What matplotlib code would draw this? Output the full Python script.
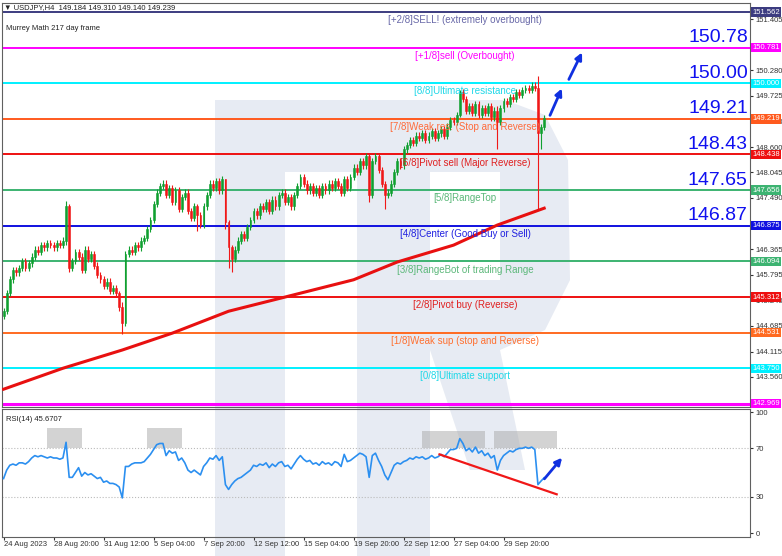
import numpy as np
import matplotlib.pyplot as plt
from matplotlib.patches import Rectangle, Polygon, FancyArrowPatch

plt.rcParams['font.family'] = ['Liberation Sans', 'DejaVu Sans']

# closes of the H4 candles
closes = [145.00, 145.40, 145.70, 145.90,
          145.85, 145.95, 146.10, 145.95, 146.05,
          146.20, 146.35, 146.30, 146.45, 146.40, 146.50, 146.45, 146.40,
          146.50, 146.45, 146.55,
          147.30, 145.95,
          146.10, 146.30, 146.20, 145.90, 146.35, 146.15, 146.25,
          146.00, 145.80, 145.70, 145.55, 145.65, 145.45, 145.50, 145.40,
          145.10, 144.75, 146.25,
          146.35, 146.30, 146.45, 146.40, 146.55, 146.60, 146.80,
          147.00, 147.35, 147.60, 147.75,
          147.80, 147.55, 147.70, 147.40, 147.65, 147.25, 147.50, 147.60, 147.20, 147.05,
          147.30, 147.10, 146.90, 147.30, 147.55, 147.80,
          147.70, 147.85, 147.65, 147.90,
          146.95, 146.40, 146.15, 146.35,
          146.55, 146.70, 146.60, 146.85, 147.00, 147.20, 147.10, 147.30, 147.25,
          147.40, 147.20, 147.45, 147.30, 147.55, 147.60, 147.40, 147.50, 147.30,
          147.55, 147.75, 147.95, 147.80,
          147.65, 147.75, 147.60, 147.70, 147.55, 147.75, 147.65, 147.80, 147.70, 147.85,
          147.75, 147.60, 147.90, 147.70,
          147.95, 148.15, 148.05, 148.30, 148.20, 148.40,
          147.55, 148.30, 148.40, 148.10, 147.80, 147.55, 147.60, 147.80,
          148.05, 148.30, 148.20, 148.55, 148.65, 148.75,
          148.70, 148.85, 148.80, 148.90, 148.75, 148.85, 148.95, 148.80, 148.90, 149.00,
          148.85, 149.05, 149.20, 149.15,
          149.30, 149.80, 149.65,
          149.40, 149.50, 149.35, 149.55, 149.30, 149.45, 149.35, 149.50, 149.25, 149.40,
          149.15, 149.45,
          149.60, 149.55, 149.70, 149.65, 149.80, 149.75, 149.85, 149.90, 149.85,
          149.95, 149.90,
          148.90,
          149.05, 149.239]
first_open = 144.90
wick = 0.07
special_wicks = {20: (147.42, 146.45), 21: (147.35, 145.85), 37: (145.45, 145.00),
                 38: (145.20, 144.50), 62: (147.35, 146.75), 71: (147.90, 146.80),
                 72: (147.00, 145.95), 73: (146.45, 145.85), 117: (148.45, 147.40),
                 122: (147.85, 147.25), 146: (149.85, 149.25), 158: (149.50, 148.55),
                 171: (150.16, 147.25), 172: (149.10, 148.55)}

# 217-period moving average (sampled per bar)
ma_x = [0, 19, 38, 54, 72, 90, 112, 126, 144, 158, 173]
ma_y = [143.29, 143.75, 144.15, 144.52, 145.00, 145.31, 145.69, 146.08, 146.45, 146.89, 147.26]

rsi = [45, 52, 56, 57,
       56, 58, 58, 57, 59,
       62, 64, 63, 64, 63, 62, 63, 62,
       62, 61, 62,
       75, 46,
       46, 50, 54, 47, 50, 48, 49,
       47, 45, 46, 42, 43, 41, 41, 40,
       38, 29, 55,
       55, 57, 58, 58, 58, 59, 62,
       65, 69, 73, 74,
       74, 64, 68, 66, 67, 60, 62, 58, 52, 50,
       52, 50, 48, 55, 58, 62,
       61, 64, 60, 63,
       40, 36, 40, 43,
       45, 46, 48, 50, 52, 56, 55, 57, 56,
       58, 54, 57, 55, 58, 59, 55, 56, 53,
       57, 61, 64, 61,
       59, 60, 57, 58, 56, 59, 57, 58, 56, 59,
       58, 55, 65, 59,
       60, 62, 64, 66, 65, 63,
       46, 64, 66, 60, 55, 48, 44, 50,
       56, 58, 57, 59, 60, 62,
       61, 63, 62, 63, 61, 62, 64, 62, 63, 65,
       63, 66, 69, 69,
       70, 78, 74,
       68, 70, 67, 71, 66, 68, 64, 66, 62, 64,
       52, 60,
       64, 66, 68, 67, 69, 70, 70, 71, 70,
       71, 69,
       40,
       43, 45.67]

levels = [151.562, 150.781, 150.000, 149.219, 148.438, 147.656, 146.875,
          146.094, 145.312, 144.531, 143.750, 142.969]
level_names = ['[+2/8]SELL! (extremely overbought)', '[+1/8]sell (Overbought)',
               '[8/8]Ultimate resistance', '[7/8]Weak res. (Stop and Reverse)',
               '[6/8]Pivot sell (Major Reverse)', '[5/8]RangeTop',
               '[4/8]Center (Good Buy or Sell)', '[3/8]RangeBot of trading Range',
               '[2/8]Pivot buy (Reverse)', '[1/8]Weak sup (stop and Reverse)',
               '[0/8]Ultimate support', '']
level_colors = ['#3c3c80', '#ff00ff', '#00f0ff', '#ff5a1e', '#ee1010', '#3cb371',
                '#1010e0', '#3cb371', '#ee1010', '#ff6a20', '#00f0ff', '#ff00ff']
text_colors = ['#6868a8', '#ff00ff', '#20d8e8', '#ff6a3a', '#e02020', '#5cb87a',
               '#2020e0', '#5cb87a', '#e02020', '#ff7030', '#20d8e8', '#ff00ff']
big_labels = ['150.78', '150.00', '149.21', '148.43', '147.65', '146.87']
big_levels = [150.781, 150.000, 149.219, 148.438, 147.656, 146.875]
price_ticks = [151.405, 150.280, 149.725, 149.170, 148.600, 148.045, 147.490,
               146.365, 145.795, 145.240, 144.685, 144.115, 143.560]
date_pos = [0, 16, 32, 48, 64, 80, 96, 112, 128, 144, 160]
date_labels = ['24 Aug 2023', '28 Aug 20:00', '31 Aug 12:00', '5 Sep 04:00',
               '7 Sep 20:00', '12 Sep 12:00', '15 Sep 04:00', '19 Sep 20:00',
               '22 Sep 12:00', '27 Sep 04:00', '29 Sep 20:00']
rsi_boxes = [(14, 25, 87), (46, 57, 87), (134, 154, 84), (157, 177, 84)]

W, H = 782, 556
fig = plt.figure(figsize=(W / 100, H / 100), dpi=100)

# watermark logo, in a background axes in pixel units
bg = fig.add_axes([0, 0, 1, 1], zorder=-5)
bg.set_xlim(0, W)
bg.set_ylim(H, 0)
bg.axis('off')
wm = '#e7ebf3'
for pts in [[(215, 100), (285, 100), (285, 556), (215, 556)],
            [(215, 100), (505, 100), (545, 115), (568, 160), (570, 280), (545, 330),
             (500, 350), (430, 350), (430, 280), (500, 280), (500, 172), (215, 172)],
            [(357, 172), (430, 172), (430, 556), (357, 556)],
            [(430, 350), (500, 350), (525, 470), (470, 470)]]:
    bg.add_patch(Polygon(pts, closed=True, facecolor=wm, edgecolor='none'))

ax = fig.add_axes([2 / W, 1 - 407 / H, 748 / W, 404 / H])
ax2 = fig.add_axes([2 / W, 1 - 537 / H, 748 / W, 128 / H])
for a in (ax, ax2):
    a.patch.set_alpha(0)
    a.set_xlim(-0.5, 748 / 3.125 - 0.5)
    for s in a.spines.values():
        s.set_color('#606060')
        s.set_linewidth(0.8)

n = len(closes)
opens = [first_open] + closes[:-1]
for i in range(n):
    o, c = opens[i], closes[i]
    hi, lo = special_wicks.get(i, (max(o, c) + wick, min(o, c) - wick))
    col = '#10a030' if c >= o else '#f01818'
    ax.vlines(i, lo, hi, color=col, lw=0.8, zorder=3)
    ax.add_patch(Rectangle((i - 0.3, min(o, c)), 0.6, max(abs(c - o), 0.01),
                           facecolor=col, edgecolor=col, lw=0.4, zorder=3))

ax.plot(ma_x, ma_y, color='#e81010', lw=2.2, zorder=4)

lab_x = 147.7
for lv, name, lc, tc in zip(levels, level_names, level_colors, text_colors):
    ax.axhline(lv, color=lc, lw=1.4 if lv != 142.969 else 2.2, zorder=2)
    if name:
        ax.text(lab_x, lv - 0.07, name, color=tc, fontsize=7, ha='center', va='top', zorder=5)
    ax.text(1.003, lv, f'{lv:.3f}', transform=ax.get_yaxis_transform(), fontsize=5.5,
            color='white', va='center', ha='left', zorder=6,
            bbox=dict(boxstyle='square,pad=0.15', facecolor=lc, edgecolor='none'))
for lab, lv in zip(big_labels, big_levels):
    ax.text(0.997, lv + 0.03, lab, transform=ax.get_yaxis_transform(), fontsize=14,
            color='#1010f0', ha='right', va='bottom', zorder=6)

ax.set_ylim(142.90, 151.76)
ax.yaxis.tick_right()
ax.set_yticks(price_ticks)
ax.set_yticklabels([f'{t:.3f}' for t in price_ticks], fontsize=5.5)
ax.tick_params(axis='y', length=2, pad=2, colors='#333333')
ax.set_xticks([])

ax.add_patch(FancyArrowPatch((174.5, 149.24), (179, 149.94), arrowstyle='-|>',
                             mutation_scale=10, color='#1030e0', lw=2, zorder=6))
ax.add_patch(FancyArrowPatch((180.5, 150.03), (185.5, 150.73), arrowstyle='-|>',
                             mutation_scale=10, color='#1030e0', lw=2, zorder=6))

fig.text(4 / W, 1 - 8 / H, '\u25bc USDJPY,H4  149.184 149.310 149.140 149.239', fontsize=5.5,
         va='center', color='#222222')
fig.text(6 / W, 1 - 28 / H, 'Murrey Math 217 day frame', fontsize=5.5, va='center', color='#222222')

# RSI panel
ax2.set_ylim(-3.3, 102.5)
for x0, x1, top in rsi_boxes:
    ax2.add_patch(Rectangle((x0, 70), x1 - x0, top - 70, facecolor='#a8a8a8', alpha=0.5,
                            edgecolor='none', zorder=1))
ax2.axhline(70, color='#bbbbbb', lw=0.8, ls=':', zorder=1)
ax2.axhline(30, color='#bbbbbb', lw=0.8, ls=':', zorder=1)
ax2.plot(range(n), rsi, color='#2b8ff0', lw=1.2, zorder=3)
ax2.plot([139.5, 177], [65, 32], color='#f01818', lw=1.6, zorder=4)
ax2.add_patch(FancyArrowPatch((172.5, 43), (179.3, 64), arrowstyle='-|>',
                              mutation_scale=10, color='#1030e0', lw=2, zorder=5))
ax2.yaxis.tick_right()
ax2.set_yticks([0, 30, 70, 100])
ax2.set_yticklabels(['0', '30', '70', '100'], fontsize=5.5)
ax2.tick_params(axis='y', length=2, pad=2, colors='#333333')
ax2.set_xticks(date_pos)
ax2.set_xticklabels(date_labels, fontsize=5.5, ha='left')
ax2.tick_params(axis='x', length=2, pad=1, colors='#333333')
ax2.text(0.006, 0.92, 'RSI(14) 45.6707', transform=ax2.transAxes, fontsize=5.5, va='center',
         color='#222222')

fig.savefig('out.png', dpi=100)
